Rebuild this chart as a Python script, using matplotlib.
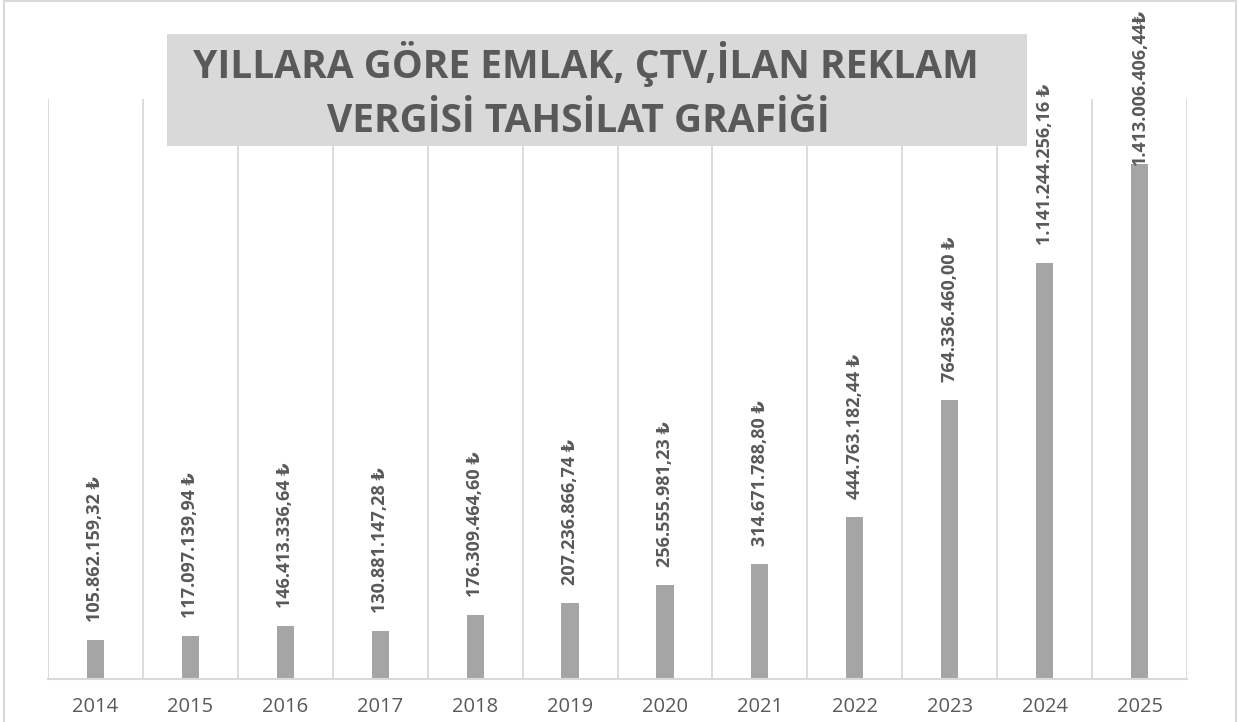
import matplotlib
matplotlib.use("Agg")
import matplotlib.pyplot as plt
from matplotlib.patches import Rectangle

plt.rcParams['font.family'] = ['Open Sans', 'DejaVu Sans']

years = ["2014", "2015", "2016", "2017", "2018", "2019",
         "2020", "2021", "2022", "2023", "2024", "2025"]
values = [105862159.32, 117097139.94, 146413336.64, 130881147.28,
          176309464.60, 207236866.74, 256555981.23, 314671788.80,
          444763182.44, 764336460.00, 1141244256.16, 1413006406.44]
value_labels = ["105.862.159,32 ₺", "117.097.139,94 ₺", "146.413.336,64 ₺",
                "130.881.147,28 ₺", "176.309.464,60 ₺", "207.236.866,74 ₺",
                "256.555.981,23 ₺", "314.671.788,80 ₺", "444.763.182,44 ₺",
                "764.336.460,00 ₺", "1.141.244.256,16 ₺", "1.413.006.406,44₺"]
title_lines = ["YILLARA GÖRE EMLAK, ÇTV,İLAN REKLAM", "VERGİSİ TAHSİLAT GRAFİĞİ"]

W, H = 1239, 722
TEXT = "#595959"
GRID = "#d9d9d9"
BAR = "#a5a5a5"

fig = plt.figure(figsize=(W / 100, H / 100), dpi=100)
fig.patch.set_facecolor("white")

# outer chart border
fig.patches.append(Rectangle((4 / W, -0.01), (1236 - 4) / W, 1.01 - 1 / H,
                             transform=fig.transFigure, fill=False,
                             edgecolor=GRID, linewidth=1.5, zorder=0))

ax = fig.add_axes([48 / W, (H - 679) / H, (1187 - 48) / W, (679 - 99) / H])
x = list(range(len(years)))
ax.bar(x, values, width=0.18, color=BAR, zorder=2)
ax.set_xlim(-0.5, len(years) - 0.5)
ax.set_ylim(0, 1.59e9)

# category separators
for b in [i - 0.5 for i in range(len(years) + 1)]:
    ax.axvline(b, color=GRID, linewidth=1.3, zorder=1)

for s in ["top", "left", "right"]:
    ax.spines[s].set_visible(False)
ax.spines["bottom"].set_color(GRID)
ax.spines["bottom"].set_linewidth(1.5)
ax.set_yticks([])
ax.set_xticks(x)
ax.set_xticklabels(years, fontsize=14.5, color=TEXT)
ax.tick_params(axis="x", length=0, pad=13)

# value labels above bars
LBL = 13
for i, (v, lab) in enumerate(zip(values, value_labels)):
    if i == len(values) - 1:
        ax.annotate(lab, xy=(i, 1 - 9 / H), xycoords=("data", "figure fraction"),
                    rotation=90, ha="center", va="top", fontsize=LBL,
                    fontweight="bold", color=TEXT, zorder=4)
    else:
        ax.annotate(lab, xy=(i, v), xytext=(0, 13), textcoords="offset points",
                    rotation=90, ha="center", va="bottom", fontsize=LBL,
                    fontweight="bold", color=TEXT, zorder=4)

# title box
bx0, bx1, by0, by1 = 167, 1027, 34, 146
fig.patches.append(Rectangle((bx0 / W, 1 - by1 / H), (bx1 - bx0) / W, (by1 - by0) / H,
                             transform=fig.transFigure, facecolor=GRID,
                             edgecolor="none", zorder=5))
fig.text(586 / W, 1 - 78 / H, title_lines[0], ha="center", va="baseline",
         fontsize=28, fontweight="bold", color=TEXT, zorder=6)
fig.text(578 / W, 1 - 132 / H, title_lines[1], ha="center", va="baseline",
         fontsize=28, fontweight="bold", color=TEXT, zorder=6)

fig.savefig("out.png", dpi=100)
